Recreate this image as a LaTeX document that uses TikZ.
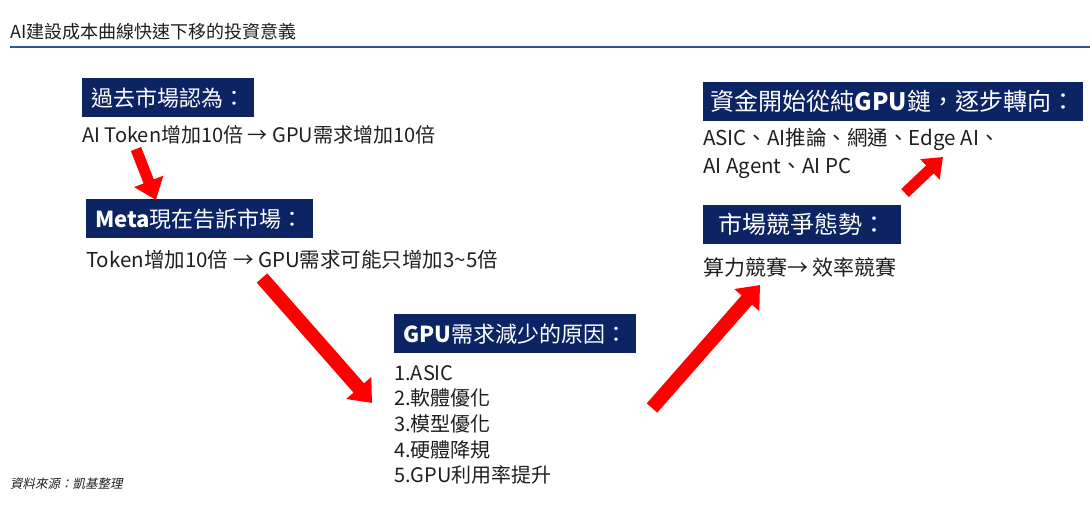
\documentclass[tikz,border=0pt]{standalone}
\usepackage{fontspec}
\setmainfont{Noto Sans CJK TC}
\newfontfamily\srcfont[FakeSlant=0.2]{Noto Sans CJK TC}
\usetikzlibrary{arrows.meta}
\definecolor{navy}{RGB}{12,35,100}
\definecolor{rulebl}{RGB}{47,85,151}
\definecolor{ink}{RGB}{30,30,30}
\begin{document}
\begin{tikzpicture}[x=1pt,y=-1pt,
    head/.style={fill=navy,text=white,anchor=north west,inner xsep=9pt,inner ysep=0pt,
      minimum height=39pt,font=\fontsize{22}{26}\selectfont},
    body/.style={anchor=west,inner sep=0pt,text=ink,font=\fontsize{20}{28}\selectfont},
    bigarrow/.style={red,line width=14pt,-{Triangle[width=32pt,length=20pt]}}]
    \useasboundingbox (0,0) rectangle (1090,515);
    \node[body,font=\fontsize{18}{20}\selectfont] (title) at (10,32) {AI建設成本曲線快速下移的投資意義};
    \draw[rulebl,line width=2pt] (10,47) -- (1090,47);
    % left column
    \node[head] (past) at (82,78) {過去市場認為：};
    \node[body] (pasttxt) at (82,135) {AI Token增加10倍 → GPU需求增加10倍};
    \node[head] (meta) at (86,199) {{\bfseries Meta}現在告訴市場：};
    \node[body,font=\fontsize{20.5}{28}\selectfont] (metatxt) at (86,260) {Token增加10倍 → GPU需求可能只增加3\textasciitilde5倍};
    % middle
    \node[head] (why) at (394,314) {{\bfseries GPU}需求減少的原因：};
    \node[body,anchor=north west,align=left,font=\fontsize{20}{25.7}\selectfont] (whytxt) at (394,365)
      {1.ASIC\\2.軟體優化\\3.模型優化\\4.硬體降規\\5.GPU利用率提升};
    % right column
    \node[head,font=\fontsize{24}{28}\selectfont,inner xsep=15pt] (comp) at (703,205) {市場競爭態勢：};
    \node[body,font=\fontsize{21}{28}\selectfont] (comptxt) at (703,267) {算力競賽→ 效率競賽};
    \node[head,font=\fontsize{24}{28}\selectfont,inner xsep=7.5pt] (fund) at (703,82) {資金開始從純{\bfseries GPU}鏈，逐步轉向：};
    \node[body,anchor=north west,align=left,font=\fontsize{20.5}{28}\selectfont] (fundtxt) at (703,128)
      {ASIC、AI推論、網通、Edge AI、\\AI Agent、AI PC};
    \node[body,anchor=west,font=\srcfont\fontsize{12.5}{14}\selectfont] (src) at (10,484) {資料來源：凱基整理};
    % arrows
    \coordinate (a1s) at (136,149); \coordinate (a1e) at (156,200);
    \coordinate (a2s) at (262,278); \coordinate (a2e) at (372,403);
    \coordinate (a3s) at (652,408); \coordinate (a3e) at (760,285);
    \coordinate (a4s) at (905,193); \coordinate (a4e) at (943,157);
    \draw[bigarrow,line width=11pt,-{Triangle[width=30pt,length=20pt]}] (a1s) -- (a1e);
    \draw[bigarrow] (a2s) -- (a2e);
    \draw[bigarrow] (a3s) -- (a3e);
    \draw[bigarrow,line width=11pt,-{Triangle[width=27pt,length=18pt]}] (a4s) -- (a4e);
\end{tikzpicture}
\end{document}
